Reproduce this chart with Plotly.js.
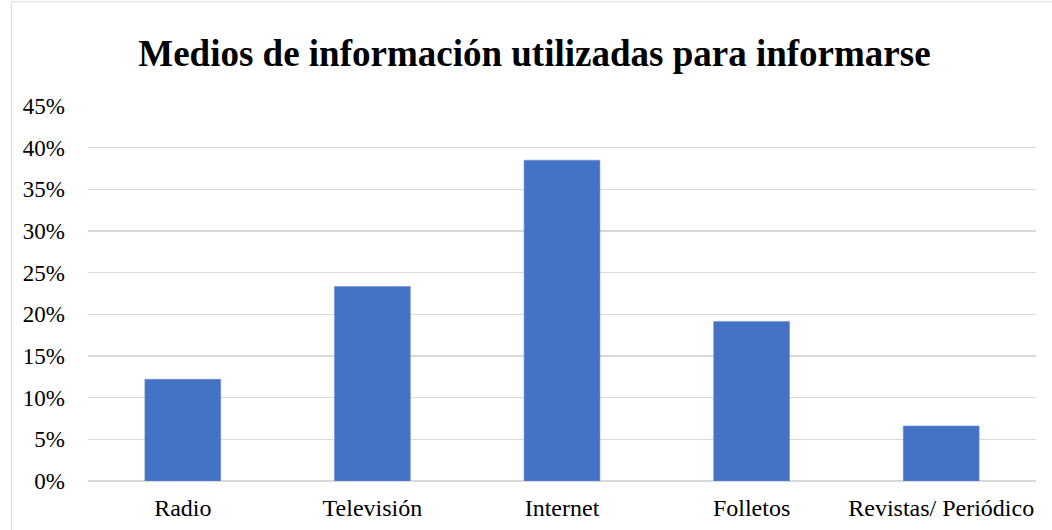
<!DOCTYPE html>
<html>
<head>
<meta charset="utf-8">
<script src="https://cdn.plot.ly/plotly-3.0.1.min.js"></script>
<style>
  html, body { margin: 0; padding: 0; background: #ffffff; }
  #chart { width: 1052px; height: 530px; }
</style>
</head>
<body>
<div id="chart"></div>
<script>
const categories = ["Radio", "Televisión", "Internet", "Folletos", "Revistas/ Periódico"];
const values = [0.122, 0.2335, 0.385, 0.1915, 0.066];
const titleText = "Medios de información utilizadas para informarse";

const serif = "Liberation Serif, Tinos, Times New Roman, serif";

const trace = {
  type: "bar",
  x: categories,
  y: values,
  marker: { color: "#4472C4", line: { color: "#6b8fd3", width: 0.6 } },
  hoverinfo: "x+y"
};

const layout = {
  width: 1052,
  height: 530,
  font: { family: serif },
  paper_bgcolor: "#ffffff",
  plot_bgcolor: "#ffffff",
  margin: { l: 88, r: 16, t: 106, b: 49 },
  bargap: 0.6,
  showlegend: false,
  title: {
    text: "<b>" + titleText + "</b>",
    font: { family: serif, size: 37, color: "#000000" },
    x: 0.508, xanchor: "center",
    y: 0.9, yanchor: "middle",
    xref: "container", yref: "container"
  },
  xaxis: {
    type: "category",
    showgrid: false,
    showline: false,
    zeroline: false,
    ticks: "",
    ticklabelstandoff: 10,
    tickfont: { family: serif, size: 24, color: "#000000" }
  },
  yaxis: {
    range: [0, 0.45],
    dtick: 0.05,
    tick0: 0,
    tickformat: ".0%",
    showgrid: true,
    gridcolor: "#d9d9d9",
    gridwidth: 1.5,
    zeroline: true,
    zerolinecolor: "#d9d9d9",
    zerolinewidth: 1.5,
    showline: false,
    ticks: "",
    ticklabelstandoff: 22,
    tickfont: { family: serif, size: 23, color: "#000000" }
  },
  shapes: [
    {
      type: "rect", xref: "paper", yref: "paper",
      x0: -0.0807, x1: 1.05, y0: -0.5, y1: 1.278,
      line: { color: "#d9d9d9", width: 1 },
      fillcolor: "rgba(0,0,0,0)",
      layer: "below"
    }
  ]
};

Plotly.newPlot("chart", [trace], layout, { displayModeBar: false, staticPlot: true });
</script>
</body>
</html>
